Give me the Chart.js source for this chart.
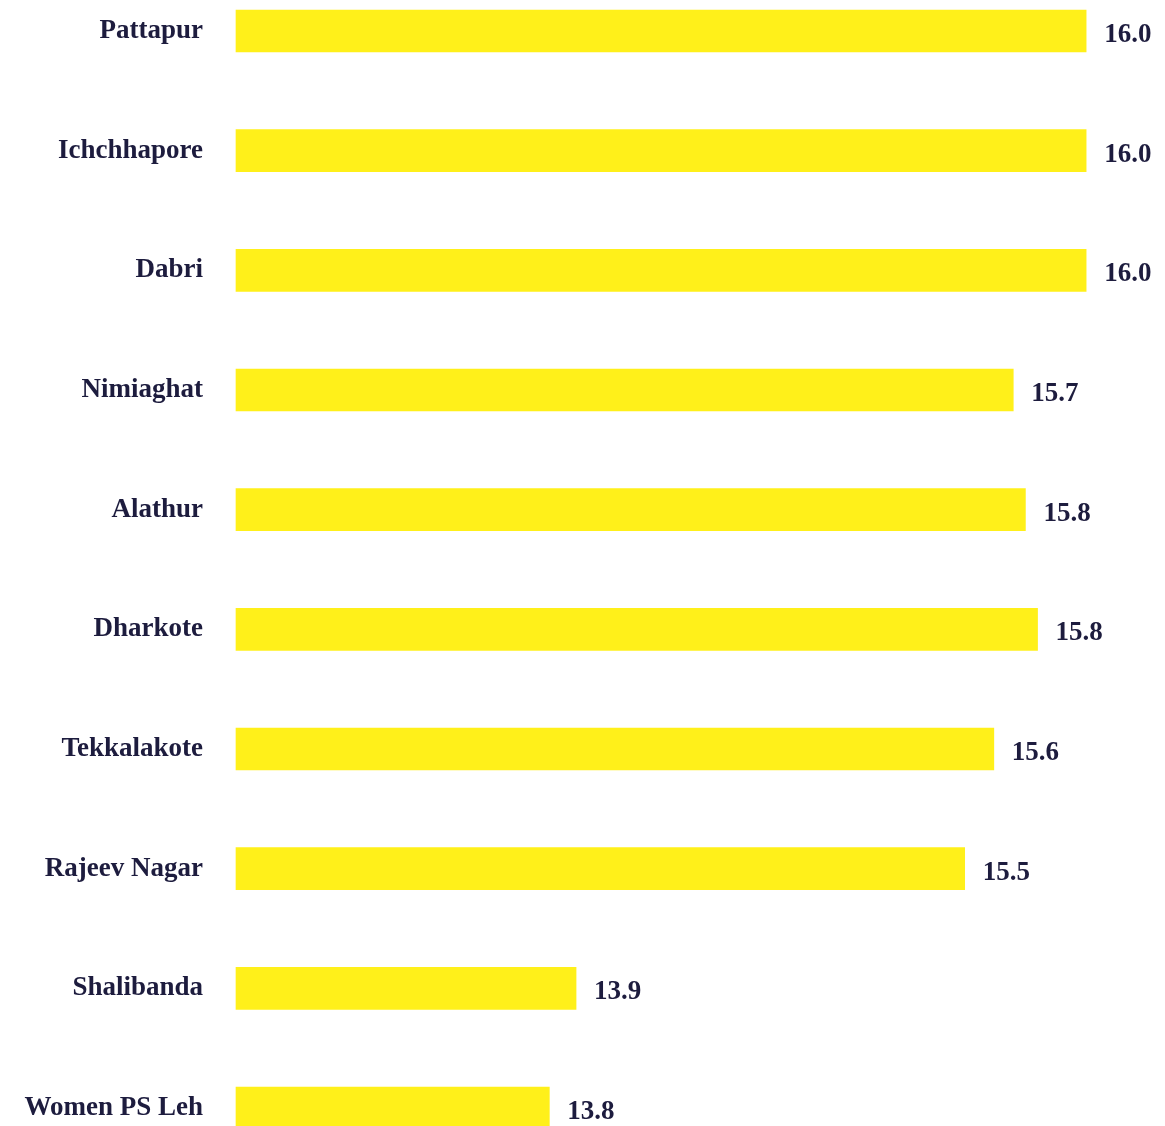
<!DOCTYPE html>
<html>
<head>
<meta charset="utf-8">
<script src="https://cdn.jsdelivr.net/npm/chart.js@4.4.1/dist/chart.umd.min.js"></script>
<style>
  html, body { margin: 0; padding: 0; background: #ffffff; overflow: hidden; }
  #wrap { width: 1165px; height: 1126px; position: relative; }
</style>
</head>
<body>
<div id="wrap"><canvas id="chart"></canvas></div>
<script>
// police stations, top to bottom
const stations = [
  'Pattapur', 'Ichchhapore', 'Dabri', 'Nimiaghat', 'Alathur',
  'Dharkote', 'Tekkalakote', 'Rajeev Nagar', 'Shalibanda', 'Women PS Leh'
];
// bar lengths
const scores = [16.0, 16.0, 16.0, 15.70, 15.75, 15.80, 15.62, 15.50, 13.90, 13.79];
// printed values at the bar ends
const scoreLabels = ['16.0', '16.0', '16.0', '15.7', '15.8', '15.8', '15.6', '15.5', '13.9', '13.8'];

const INK = '#1d1c3e';
const BAR = '#fff01a';
const FONT = '"Liberation Serif", "DejaVu Serif", serif';
const AXIS_MIN = 12.5;

// draws the number just right of each bar
const endLabels = {
  id: 'endLabels',
  afterDatasetsDraw(chart) {
    const ctx = chart.ctx;
    const meta = chart.getDatasetMeta(0);
    ctx.save();
    ctx.font = 'bold 27px ' + FONT;
    ctx.fillStyle = INK;
    ctx.textAlign = 'left';
    ctx.textBaseline = 'middle';
    meta.data.forEach((bar, i) => {
      ctx.fillText(scoreLabels[i], bar.x + 18, bar.y + 4);
    });
    ctx.restore();
  }
};

new Chart(document.getElementById('chart'), {
  type: 'bar',
  data: {
    labels: stations,
    datasets: [{
      data: scores,
      base: AXIS_MIN,
      backgroundColor: BAR,
      borderWidth: 0,
      barThickness: 42,
      clip: false
    }]
  },
  options: {
    indexAxis: 'y',
    responsive: true,
    maintainAspectRatio: false,
    animation: false,
    layout: { padding: { top: 31, bottom: 18, left: 0, right: 6 } },
    plugins: {
      legend: { display: false },
      tooltip: { enabled: false }
    },
    scales: {
      x: {
        display: false,
        min: AXIS_MIN,
        max: 16.3
      },
      y: {
        offset: false,
        grid: { display: false, drawTicks: false },
        border: { display: false },
        ticks: {
          color: INK,
          padding: 33,
          font: { family: FONT, size: 27, weight: 'bold' }
        },
        afterFit(scale) {
          // fixed label column; no extra room above/below the first and last rows
          scale.width = 236;
          scale.paddingTop = 0;
          scale.paddingBottom = 0;
        }
      }
    }
  },
  plugins: [endLabels]
});
</script>
</body>
</html>
